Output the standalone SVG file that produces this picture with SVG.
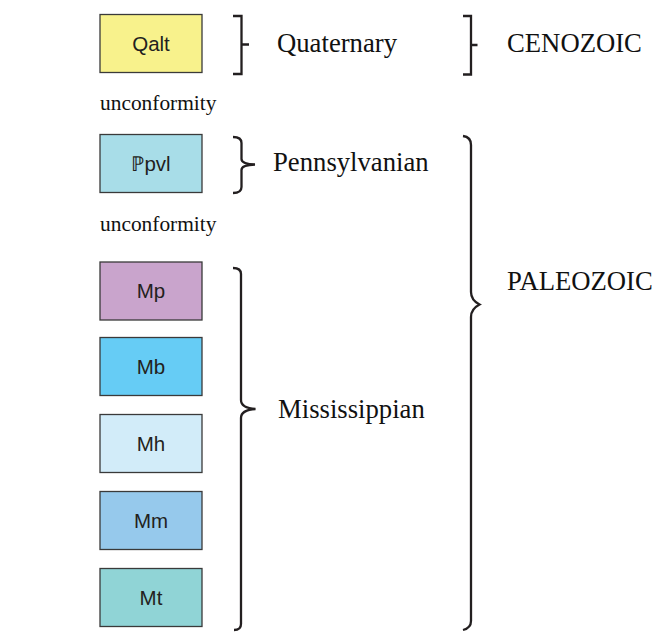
<svg xmlns="http://www.w3.org/2000/svg" width="659" height="636" viewBox="0 0 659 636">
<style>
.box{stroke:#3a3a3a;stroke-width:1.3}
.bt{font-family:"Liberation Sans",Arial,sans-serif;font-size:20.5px;fill:#231f20;text-anchor:middle}
.lbl{font-family:"Liberation Serif","Times New Roman",serif;font-size:26.7px;fill:#111}
.unc{font-family:"Liberation Serif","Times New Roman",serif;font-size:21.4px;fill:#111}
.br{fill:none;stroke:#231f20;stroke-width:2.3;stroke-linejoin:miter}
</style>
<rect width="659" height="636" fill="#fff"/>
<g id="Qalt"><rect class="box" x="100" y="14.5" width="102" height="58" fill="#f8f28c"/><text class="bt" x="151" y="50.5">Qalt</text></g>
<g id="Ppvl"><rect class="box" x="100" y="134.5" width="102" height="58" fill="#a8dde8"/><text class="bt" x="151" y="170.5">ℙpvl</text></g>
<g id="Mp"><rect class="box" x="100" y="262" width="102" height="58" fill="#c9a4cc"/><text class="bt" x="151" y="298">Mp</text></g>
<g id="Mb"><rect class="box" x="100" y="337.5" width="102" height="58" fill="#66ccf5"/><text class="bt" x="151" y="373.5">Mb</text></g>
<g id="Mh"><rect class="box" x="100" y="414.5" width="102" height="58" fill="#d2ecf9"/><text class="bt" x="151" y="450.5">Mh</text></g>
<g id="Mm"><rect class="box" x="100" y="491.5" width="102" height="58" fill="#96c9ec"/><text class="bt" x="151" y="527.5">Mm</text></g>
<g id="Mt"><rect class="box" x="100" y="568.5" width="102" height="58" fill="#90d4d6"/><text class="bt" x="151" y="604.5">Mt</text></g>
<g id="unconformity1"><text class="unc" x="100" y="110">unconformity</text></g>
<g id="unconformity2"><text class="unc" x="100" y="231">unconformity</text></g>
<g id="connectors">
<path class="br" d="M233,16 H241.5 V74 H233 M241.5,44.5 H249"/>
<path class="br" d="M463,16 H471 V74.5 H463 M471,45 H477.5"/>
<path class="br" d="M233,137 Q241.5,137 241.5,143 V159 Q241.5,164 255,164.5 Q241.5,165 241.5,170 V187 Q241.5,193 233,193"/>
<path class="br" d="M233,268 Q241,268 241,274 V400 Q241,408 255.5,409 Q241,410 241,418 V624 Q241,630 234,630"/>
<path class="br" d="M463,136 Q471,137 471,145 V292 Q471,300 479.5,304.5 Q471,309 471,317 V621 Q471,628 463,630"/>
</g>
<g id="labels">
<text class="lbl" x="277" y="52">Quaternary</text>
<text class="lbl" x="507" y="52">CENOZOIC</text>
<text class="lbl" x="273" y="171">Pennsylvanian</text>
<text class="lbl" x="507" y="290">PALEOZOIC</text>
<text class="lbl" x="278" y="418">Mississippian</text>
</g>
</svg>
